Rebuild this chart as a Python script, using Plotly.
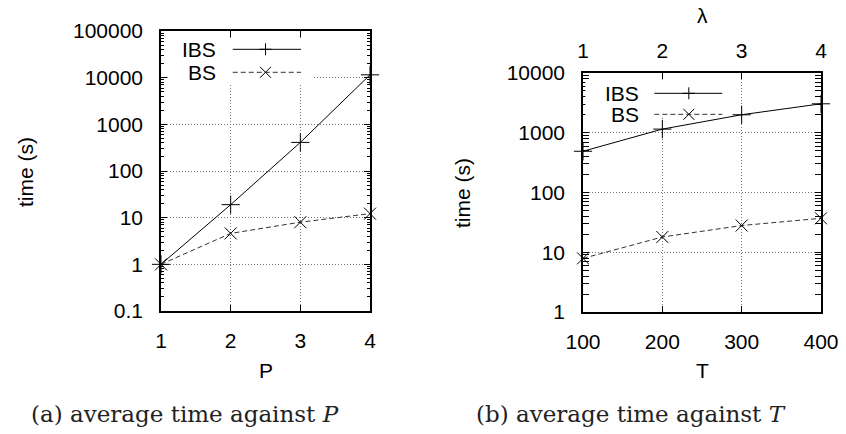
import plotly.graph_objects as go

# ---- data ----
P_vals = [1, 2, 3, 4]
ibs_P = [1.0, 19.0, 410.0, 11500.0]
bs_P = [1.0, 4.6, 8.0, 12.2]

T_vals = [100, 200, 300, 400]
lam_vals = [1, 2, 3, 4]
ibs_T = [490.0, 1150.0, 2000.0, 3050.0]
bs_T = [7.9, 18.0, 28.0, 37.0]

yticks_a = [0.1, 1, 10, 100, 1000, 10000, 100000]
yticks_a_text = ["0.1", "1", "10", "100", "1000", "10000", "100000"]
yticks_b = [1, 10, 100, 1000, 10000]
yticks_b_text = ["1", "10", "100", "1000", "10000"]

SANS = "Liberation Sans, Arial, sans-serif"
SERIF = "DejaVu Serif, serif"
TICKF = dict(family=SANS, size=21, color="black")
W, H = 846, 434

# plot-area pixel boxes
ax_a = (161, 370, 31, 311)   # x0, x1, ytop, ybottom
ax_b = (583, 821, 73, 312)

def xdom(b):
    return [b[0] / W, b[1] / W]

def ydom(b):
    return [1 - b[3] / H, 1 - b[2] / H]

fig = go.Figure()

solid = dict(color="black", width=1)
dashed = dict(color="#333333", width=1, dash="5px,3px")
plus = dict(symbol="cross-thin-open", size=13, line=dict(color="black", width=1), color="black")
cross = dict(symbol="x-thin-open", size=12, line=dict(color="black", width=1), color="black")

fig.add_trace(go.Scatter(x=P_vals, y=ibs_P, mode="lines+markers", line=solid, marker=plus,
                         cliponaxis=False, showlegend=False, xaxis="x", yaxis="y"))
fig.add_trace(go.Scatter(x=P_vals, y=bs_P, mode="lines+markers", line=dashed, marker=cross,
                         cliponaxis=False, showlegend=False, xaxis="x", yaxis="y"))
fig.add_trace(go.Scatter(x=T_vals, y=ibs_T, mode="lines+markers", line=solid, marker=plus,
                         cliponaxis=False, showlegend=False, xaxis="x2", yaxis="y2"))
fig.add_trace(go.Scatter(x=T_vals, y=bs_T, mode="lines+markers", line=dashed, marker=cross,
                         cliponaxis=False, showlegend=False, xaxis="x2", yaxis="y2"))
# invisible trace for top lambda axis
fig.add_trace(go.Scatter(x=lam_vals, y=bs_T, mode="markers", marker=dict(opacity=0),
                         showlegend=False, hoverinfo="skip", xaxis="x3", yaxis="y2"))

common_axis = dict(showline=True, linecolor="black", linewidth=1.5, mirror="allticks",
                   ticks="inside", ticklen=6, tickcolor="black", tickfont=TICKF,
                   showgrid=True, gridcolor="#777777", griddash="1px,2px", gridwidth=1,
                   zeroline=False, automargin=False)

fig.update_layout(
    width=W, height=H, margin=dict(l=0, r=0, t=0, b=0, autoexpand=False),
    paper_bgcolor="white", plot_bgcolor="white", showlegend=False,
    xaxis=dict(common_axis, domain=xdom(ax_a), anchor="y", range=[1, 4],
               tickvals=P_vals, ticktext=[str(v) for v in P_vals], ticklabelstandoff=10),
    yaxis=dict(common_axis, domain=ydom(ax_a), anchor="x", type="log",
               range=[-1, 5], tickvals=yticks_a, ticktext=yticks_a_text, ticklabelstandoff=12,
               minor=dict(ticks="inside", ticklen=3, tickcolor="black", dtick="D1", showgrid=False)),
    xaxis2=dict(common_axis, domain=xdom(ax_b), anchor="y2", range=[100, 400],
                tickvals=T_vals, ticktext=[str(v) for v in T_vals], ticklabelstandoff=10,
                mirror="ticks"),
    yaxis2=dict(common_axis, domain=ydom(ax_b), anchor="x2", type="log",
                range=[0, 4], tickvals=yticks_b, ticktext=yticks_b_text, ticklabelstandoff=12,
                minor=dict(ticks="inside", ticklen=3, tickcolor="black", dtick="D1", showgrid=False)),
    xaxis3=dict(overlaying="x2", side="top", anchor="y2", range=[1, 4],
                tickvals=lam_vals, ticktext=[str(v) for v in lam_vals],
                ticks="inside", ticklen=6, tickcolor="black", tickfont=TICKF, automargin=False,
                showgrid=False, showline=False, zeroline=False, ticklabelstandoff=10),
)

# legend background boxes (opaque, drawn first so legend keys go on top)
fig.add_shape(type="rect", xref="x domain", yref="y domain", x0=0.04, x1=0.727, y0=0.807, y1=0.975,
              fillcolor="white", line=dict(width=0), layer="above")
fig.add_shape(type="rect", xref="x2 domain", yref="y2 domain", x0=0.01, x1=0.60, y0=0.82, y1=0.972,
              fillcolor="white", line=dict(width=0), layer="above")

def legend(xr, yr, text_x, lx0, lx1, mx, y_ibs, y_bs):
    for label, yy, ln in (("IBS", y_ibs, solid), ("BS", y_bs, dashed)):
        fig.add_annotation(text=label, xref=xr, yref=yr, x=text_x, y=yy, xanchor="right",
                           yanchor="middle", showarrow=False, font=TICKF, borderpad=0)
        fig.add_shape(type="line", xref=xr, yref=yr, x0=lx0, x1=lx1, y0=yy, y1=yy,
                      line=ln, layer="above")
    # plus marker
    fig.add_shape(type="line", xref=xr, yref=yr, xsizemode="pixel", xanchor=mx, x0=-6, x1=6,
                  y0=y_ibs, y1=y_ibs, line=dict(color="black", width=1))
    fig.add_shape(type="line", xref=xr, yref=yr, ysizemode="pixel", yanchor=y_ibs, y0=-6, y1=6,
                  x0=mx, x1=mx, line=dict(color="black", width=1))
    # x marker
    fig.add_shape(type="line", xref=xr, yref=yr, xsizemode="pixel", ysizemode="pixel",
                  xanchor=mx, yanchor=y_bs, x0=-5.5, x1=5.5, y0=-5.5, y1=5.5,
                  line=dict(color="black", width=1))
    fig.add_shape(type="line", xref=xr, yref=yr, xsizemode="pixel", ysizemode="pixel",
                  xanchor=mx, yanchor=y_bs, x0=-5.5, x1=5.5, y0=5.5, y1=-5.5,
                  line=dict(color="black", width=1))

legend("x domain", "y domain", 0.2665, 0.3433, 0.6699, 0.5, 0.9346, 0.8525)
legend("x2 domain", "y2 domain", 0.2395, 0.2996, 0.5853, 0.4446, 0.915, 0.8272)

# axis titles and captions
def ptext(text, x, y, angle=0, font=TICKF):
    fig.add_annotation(text=text, xref="paper", yref="paper", x=x / W, y=1 - y / H,
                       xanchor="center", yanchor="middle", showarrow=False, textangle=angle,
                       font=font, borderpad=0)

ptext("time (s)", 25, 172, -90)
ptext("time (s)", 462, 193, -90)
ptext("P", 265.5, 370)
ptext("T", 702, 370)
ptext("λ", 702, 15)
CAPF = dict(family=SERIF, size=23, color="#222222")
ptext("(a) average time against <i>P</i>", 185, 414, font=CAPF)
ptext("(b) average time against <i>T</i>", 631, 414, font=CAPF)

fig.write_html("out.html")
